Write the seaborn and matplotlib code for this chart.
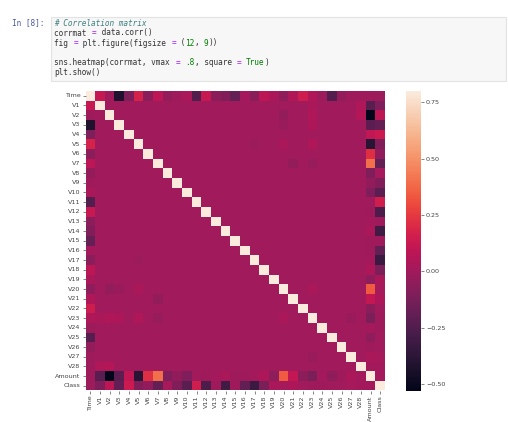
import numpy as np
import pandas as pd
import seaborn as sns
from matplotlib import pyplot as plt
from matplotlib.patches import Rectangle

W, H = 508, 422

labels = ['Time'] + ['V%d' % i for i in range(1, 29)] + ['Amount', 'Class']

# correlations
time_row = [1, 0.117, -0.011, -0.42, -0.105, 0.173, -0.063, 0.085, -0.037, -0.009, 0.031,
            -0.248, 0.124, -0.066, -0.099, -0.183, 0.012, -0.073, 0.09, 0.029, -0.051,
            0.045, 0.144, 0.051, -0.016, -0.233, -0.041, -0.005, -0.009, -0.011, -0.012]
amount_row = [-0.011, -0.228, -0.531, -0.211, 0.099, -0.386, 0.216, 0.397, -0.103, -0.044, -0.102,
              0.0, -0.01, 0.005, 0.034, -0.003, -0.004, 0.007, 0.036, -0.056, 0.339,
              0.106, -0.065, -0.113, 0.005, -0.048, -0.003, 0.029, 0.01, 1, 0.006]
class_row = [-0.012, -0.101, 0.091, -0.193, 0.133, -0.095, -0.044, -0.187, 0.02, -0.098, -0.217,
             0.155, -0.261, -0.005, -0.303, -0.004, -0.197, -0.327, -0.111, 0.035, 0.02,
             0.04, 0.001, -0.003, -0.007, 0.003, 0.004, 0.018, 0.01, 0.006, 1]

# faint cells elsewhere in the matrix
faint_a = ['V2', 'V3', 'V5', 'V7', 'V1', 'V2', 'V3', 'V5', 'V7', 'V1', 'V2', 'V20', 'V23', 'V5']
faint_b = ['V20', 'V20', 'V20', 'V21', 'V23', 'V23', 'V23', 'V23', 'V23', 'V28', 'V28', 'V23', 'V27', 'V17']
faint_v = [-0.04, -0.02, 0.03, -0.04, 0.03, 0.05, 0.04, 0.05, -0.03, 0.05, 0.06, 0.03, -0.02, -0.015]

corrmat = pd.DataFrame(np.eye(len(labels)), index=labels, columns=labels)
for name, row in [('Time', time_row), ('Amount', amount_row), ('Class', class_row)]:
    corrmat.loc[name, :] = row
    corrmat.loc[:, name] = row
for a, b, v in zip(faint_a, faint_b, faint_v):
    corrmat.loc[a, b] = v
    corrmat.loc[b, a] = v

cbar_ticks = [-0.5, -0.25, 0, 0.25, 0.5, 0.75]

# notebook cell, each line is a list of (text, colour)
DEF, OP, NUM, COM = '#333333', '#aa22ff', '#008000', '#408080'
code_lines = [
    (23, [('# Correlation matrix', COM)]),
    (33, [('corrmat ', DEF), ('=', OP), (' data.corr()', DEF)]),
    (43, [('fig ', DEF), ('=', OP), (' plt.figure(figsize ', DEF), ('=', OP), (' (', DEF),
          ('12', NUM), (', ', DEF), ('9', NUM), ('))', DEF)]),
    (62.5, [('sns.heatmap(corrmat, vmax ', DEF), ('=', OP), (' ', DEF), ('.8', NUM),
            (', square ', DEF), ('=', OP), (' ', DEF), ('True', NUM), (')', DEF)]),
    (72.5, [('plt.show()', DEF)]),
]

fig = plt.figure(figsize=(W / 100, H / 100), dpi=100)


def px_rect(x, y, w, h):
    return [x / W, 1 - (y + h) / H, w / W, h / H]


x0, y0, w0, h0 = px_rect(50.5, 16.5, 455, 64)
fig.add_artist(Rectangle((x0, y0), w0, h0, transform=fig.transFigure,
                         facecolor='#f7f7f7', edgecolor='#e3e3e3', lw=0.8))
fig.text(44 / W, 1 - 23 / H, 'In [8]:', family='DejaVu Sans Mono', fontsize=5.6,
         color='#4a5a9f', ha='right', va='center')

char_w = 4.67
for y, parts in code_lines:
    n = 0
    for text, colour in parts:
        fig.text((54.5 + n * char_w) / W, 1 - y / H, text, family='DejaVu Sans Mono',
                 fontsize=5.6, color=colour, va='center', ha='left',
                 style='italic' if colour == COM else 'normal')
        n += len(text)

ax = fig.add_axes(px_rect(85.5, 91, 299.5, 299.5))
cax = fig.add_axes(px_rect(406, 91, 15, 300))
sns.heatmap(corrmat, vmax=.8, square=True, ax=ax, cbar_ax=cax,
            xticklabels=True, yticklabels=True, cbar_kws={'ticks': cbar_ticks})
ax.tick_params(length=2, width=0.5, labelsize=4.6, pad=1.5, color='#555555', labelcolor='#444444')
plt.setp(ax.get_xticklabels(), rotation=90)
plt.setp(ax.get_yticklabels(), rotation=0)
cax.tick_params(length=2, width=0.5, labelsize=4.6, pad=1.5, color='#555555', labelcolor='#444444')

plt.savefig('out.png', dpi=100)
